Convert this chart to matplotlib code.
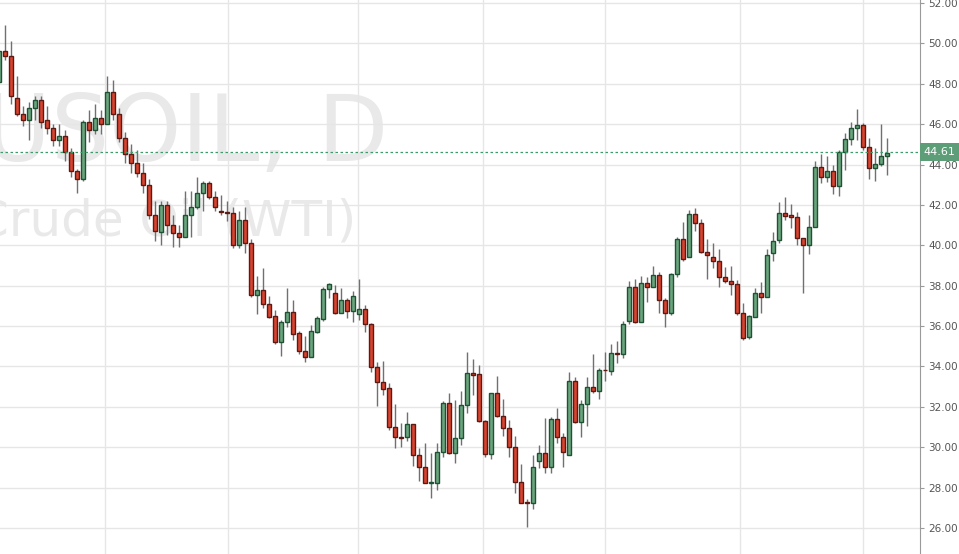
import matplotlib
matplotlib.use("Agg")
import matplotlib.pyplot as plt
from matplotlib.patches import Rectangle
import numpy as np

# daily OHLC, oldest first
opens = [48.1, 49.6, 49.4, 47.3, 46.5, 46.2, 46.8, 47.2, 46.2, 45.8,
         45.2, 45.4, 44.6, 43.7, 43.3, 46.1, 45.7, 46.3, 46.0, 47.6,
         46.5, 45.3, 44.5, 44.1, 43.6, 43.0, 41.5, 40.67, 42.0, 41.0,
         40.6, 40.4, 41.5, 41.9, 42.6, 43.1, 42.4, 41.7, 41.65, 41.6,
         40.0, 41.25, 40.1, 37.55, 37.8, 37.1, 36.5, 35.2, 36.2, 36.7,
         35.64, 34.74, 34.49, 35.73, 36.34, 37.84, 37.62, 36.63, 37.3, 36.77,
         36.6, 36.85, 36.09, 33.99, 33.22, 32.92, 31.02, 30.49, 30.49, 31.14,
         29.62, 29.04, 28.21, 28.21, 29.78, 32.17, 29.73, 30.44, 32.09, 33.66,
         33.63, 31.3, 29.65, 32.67, 31.56, 30.93, 30.03, 28.26, 27.27, 27.22,
         29.33, 29.7, 29.04, 31.38, 30.52, 29.61, 33.3, 31.27, 32.12, 33.0,
         32.8, 33.82, 33.79, 34.65, 34.6, 36.26, 37.91, 36.21, 38.11, 37.91,
         38.51, 37.29, 36.66, 38.57, 40.29, 39.4, 41.53, 41.12, 39.68, 39.4,
         39.2, 38.41, 38.24, 38.08, 36.63, 35.48, 36.47, 37.66, 37.43, 39.6,
         40.27, 41.59, 41.5, 41.39, 40.35, 40.02, 40.89, 43.87, 43.37, 43.68,
         42.94, 44.61, 45.25, 45.8, 45.96, 44.86, 43.82, 44.03, 44.44]
highs = [49.8, 50.9, 50.1, 48.4, 46.9, 47.1, 47.4, 47.4, 46.9, 46.0,
         46.0, 45.7, 44.8, 43.8, 46.2, 46.7, 47.0, 46.7, 48.4, 48.2,
         46.8, 45.6, 45.0, 44.7, 44.1, 43.3, 42.2, 42.2, 42.2, 41.5,
         41.0, 42.7, 42.7, 43.4, 43.2, 43.2, 42.7, 42.5, 42.2, 41.9,
         41.7, 41.9, 40.3, 38.5, 38.9, 37.5, 36.8, 36.3, 37.9, 37.3,
         35.76, 35.5, 36.06, 36.5, 37.92, 38.15, 38.04, 37.87, 37.38, 37.76,
         38.33, 37.05, 36.14, 34.24, 34.29, 33.17, 32.14, 31.18, 31.76, 31.15,
         29.95, 30.2, 29.73, 30.2, 32.3, 32.7, 32.34, 32.8, 34.73, 34.35,
         34.07, 31.35, 32.7, 33.53, 32.39, 31.35, 30.56, 29.17, 27.42, 29.6,
         30.11, 31.43, 31.48, 31.93, 30.69, 33.74, 33.46, 32.34, 33.46, 34.62,
         33.9, 34.73, 35.11, 35.27, 36.26, 38.24, 38.31, 38.48, 38.44, 38.97,
         38.69, 37.37, 38.61, 40.39, 41.17, 41.74, 41.83, 41.28, 40.29, 40.09,
         39.8, 38.94, 38.97, 38.28, 37.12, 36.55, 37.87, 38.2, 39.8, 40.68,
         42.16, 42.38, 42.05, 41.67, 40.27, 41.5, 44.2, 44.53, 44.43, 43.98,
         44.72, 45.58, 46.13, 46.74, 46.08, 45.3, 44.81, 46.01, 45.3]
lows = [48.0, 49.2, 47.0, 46.4, 45.9, 45.2, 46.2, 45.8, 45.5, 44.9,
        44.9, 44.2, 43.4, 42.6, 43.2, 45.1, 45.5, 45.5, 46.0, 46.2,
        45.1, 44.1, 43.6, 43.4, 42.6, 41.3, 40.2, 40.0, 40.5, 39.9,
        39.9, 40.4, 40.4, 41.8, 41.7, 42.3, 41.7, 41.5, 41.2, 39.85,
        39.85, 39.6, 37.45, 36.6, 36.9, 36.4, 35.1, 34.5, 35.96, 35.3,
        34.6, 34.24, 34.45, 35.64, 36.27, 37.38, 36.58, 36.63, 36.39, 36.22,
        36.3, 35.73, 33.74, 32.04, 32.59, 30.86, 29.95, 30.03, 30.33, 29.07,
        28.35, 28.21, 27.5, 27.88, 29.5, 29.66, 29.23, 30.11, 31.71, 32.59,
        31.27, 29.53, 29.4, 31.51, 30.56, 29.53, 27.72, 27.22, 26.03, 26.92,
        28.95, 28.71, 28.71, 30.22, 29.04, 29.61, 31.18, 30.52, 31.05, 32.67,
        32.37, 33.3, 33.57, 34.18, 34.4, 36.1, 36.13, 36.21, 37.2, 37.91,
        36.66, 35.93, 36.54, 38.44, 39.24, 39.4, 40.72, 39.63, 38.31, 38.86,
        37.91, 38.11, 37.53, 36.54, 35.31, 35.35, 36.44, 36.63, 37.43, 39.24,
        40.13, 41.26, 40.84, 40.02, 37.62, 39.57, 40.89, 43.07, 43.16, 42.54,
        42.45, 43.73, 44.97, 45.22, 44.72, 43.29, 43.2, 43.93, 43.49]
closes = [49.6, 49.4, 47.4, 46.5, 46.2, 46.8, 47.2, 46.1, 45.8, 45.2,
          45.4, 44.6, 43.7, 43.3, 46.1, 45.7, 46.3, 46.0, 47.6, 46.5,
          45.3, 44.5, 44.1, 43.6, 43.0, 41.5, 40.7, 41.99, 41.0, 40.6,
          40.4, 41.5, 41.9, 42.6, 43.1, 42.4, 41.9, 41.65, 41.6, 40.0,
          41.25, 40.1, 37.55, 37.8, 37.1, 36.46, 35.2, 36.2, 36.7, 35.6,
          34.74, 34.49, 35.76, 36.39, 37.84, 38.09, 36.63, 37.3, 36.77, 37.49,
          36.85, 36.09, 33.99, 33.22, 32.87, 31.02, 30.49, 30.47, 31.14, 29.62,
          29.04, 28.21, 28.26, 29.78, 32.18, 29.73, 30.44, 32.09, 33.66, 33.6,
          31.3, 29.65, 32.67, 31.56, 30.93, 30.03, 28.26, 27.25, 27.22, 29.0,
          29.7, 29.04, 31.38, 30.52, 29.78, 33.3, 31.27, 32.12, 33.0, 32.8,
          33.82, 33.8, 34.65, 34.6, 36.1, 37.91, 36.21, 38.11, 37.91, 38.51,
          37.29, 36.66, 38.57, 40.29, 39.3, 41.53, 41.12, 39.68, 39.5, 39.2,
          38.41, 38.24, 38.08, 36.63, 35.39, 36.5, 37.66, 37.43, 39.52, 40.23,
          41.59, 41.47, 41.39, 40.35, 40.02, 40.89, 43.87, 43.37, 43.68, 42.94,
          44.61, 45.25, 45.8, 45.96, 44.86, 43.82, 44.03, 44.44, 44.59]

last_price = 44.61
y_ticks = np.arange(26, 53, 2)
v_grid = [17.7, 38.2, 59.8, 80.7, 101.0, 123.5, 144.0]

UP_FILL, UP_EDGE = "#6ba57f", "#1f5233"
DN_FILL, DN_EDGE = "#d9432f", "#5e1a12"
GRID = "#e6e6e6"
MARK = "#e9e9e9"

fig = plt.figure(figsize=(9.59, 5.54), dpi=100)
ax = fig.add_axes([0, 0, 920 / 959, 1])
ax.set_xlim(0.167, 153.5)
ax.set_ylim(24.71, 52.15)

# watermark, partly cut at the left edge like the original
ax.text(388 / 920, 1 - 135 / 554, "USOIL, D", transform=ax.transAxes, ha="right",
        va="center", fontsize=66, color=MARK, zorder=0, clip_on=True)
ax.text(356 / 920, 1 - 222 / 554, "Crude Oil (WTI)", transform=ax.transAxes, ha="right",
        va="center", fontsize=36, color=MARK, zorder=0, clip_on=True)

for y in y_ticks:
    ax.axhline(y, color=GRID, lw=1, zorder=1)
for x in v_grid:
    ax.axvline(x, color=GRID, lw=1, zorder=1)

w = 0.6
for i, (o, h, l, c) in enumerate(zip(opens, highs, lows, closes)):
    up = c >= o
    ax.vlines(i, l, h, color="#707070", lw=1, zorder=2)
    bottom = min(o, c)
    height = max(abs(c - o), 0.04)
    ax.add_patch(Rectangle((i - w / 2, bottom), w, height,
                           facecolor=UP_FILL if up else DN_FILL,
                           edgecolor=UP_EDGE if up else DN_EDGE, lw=1, zorder=3))

ax.axhline(last_price, color="#3d9a6a", lw=0.9, ls=(0, (2, 2)), zorder=4)

for s in ["top", "left", "bottom"]:
    ax.spines[s].set_visible(False)
ax.spines["right"].set_color("#9a9a9a")
ax.yaxis.tick_right()
ax.set_yticks(y_ticks)
ax.set_yticklabels([f"{v:.2f}" for v in y_ticks])
ax.tick_params(axis="y", colors="#9a9a9a", labelcolor="#555555", labelsize=7.5,
               length=3, pad=3)
ax.set_xticks([])

ax.text(1.004, last_price, f"{last_price:.2f}", transform=ax.get_yaxis_transform(),
        ha="left", va="center", fontsize=8, color="white", zorder=5,
        bbox=dict(boxstyle="square,pad=0.35", facecolor="#5d9e78", edgecolor="none"),
        clip_on=False)

fig.savefig("out.png", dpi=100)
